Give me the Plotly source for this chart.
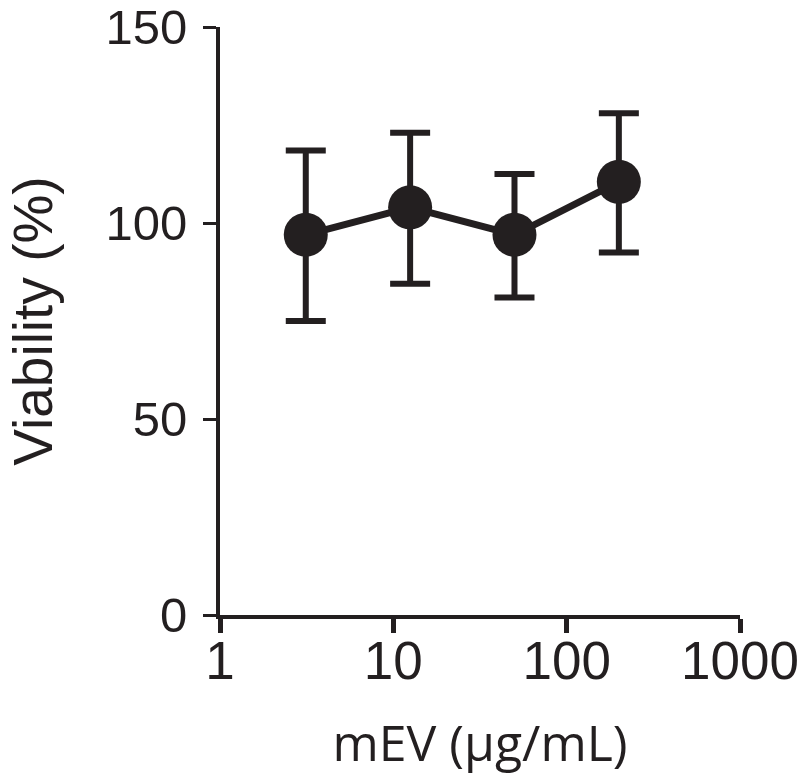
import plotly.graph_objects as go

concentration = [3.125, 12.5, 50, 200]
viability = [97, 104, 97, 110.5]
err_plus = [21.5, 19, 15.5, 17.5]
err_minus = [22, 19.5, 16, 18]
x_ticks = [1, 10, 100, 1000]
y_ticks = [0, 50, 100, 150]

ink = "#231f20"

fig = go.Figure()
fig.add_trace(go.Scatter(
    x=concentration, y=viability,
    mode="lines+markers",
    line=dict(color=ink, width=7),
    marker=dict(color=ink, size=44),
    error_y=dict(type="data", symmetric=False, array=err_plus, arrayminus=err_minus,
                 color=ink, thickness=6, width=20),
    showlegend=False,
    cliponaxis=False,
))

fig.update_layout(
    width=800, height=784,
    margin=dict(l=220, r=60, t=27, b=169),
    plot_bgcolor="white", paper_bgcolor="white",
    font=dict(family="Liberation Sans, Arial, sans-serif", color=ink),
)
fig.update_xaxes(
    type="log", range=[0, 3], automargin=False,
    tickvals=x_ticks, ticktext=[str(v) for v in x_ticks],
    showgrid=False, zeroline=False,
    showline=True, linecolor=ink, linewidth=4,
    ticks="outside", ticklen=14, tickwidth=5, tickcolor=ink,
    tickfont=dict(size=53, color=ink),
    ticklabeloverflow="allow",
    ticklabelstandoff=-18,
    title=dict(text="mEV (μg/mL)", font=dict(family="Open Sans, sans-serif", size=50, color=ink), standoff=38),
)
fig.update_yaxes(
    range=[0, 150], automargin=False,
    tickvals=y_ticks,
    showgrid=False, zeroline=False,
    showline=True, linecolor=ink, linewidth=4,
    ticks="outside", ticklen=13, tickwidth=3, tickcolor=ink,
    tickfont=dict(size=49, color=ink),
    ticklabelstandoff=6,
    title=dict(text="Viability (%)", font=dict(family="Liberation Sans, Arial, sans-serif", size=55, color=ink), standoff=36),
)

fig.write_html("out.html", config={"displayModeBar": False},
               post_script="document.body.style.margin='0';")
